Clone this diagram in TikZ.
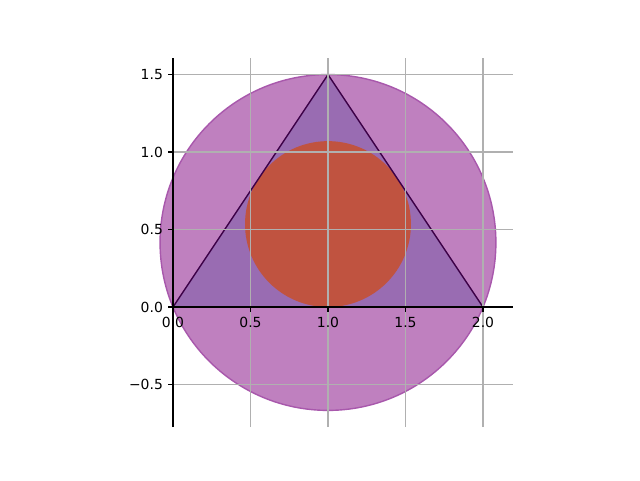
\documentclass[tikz,border=0pt]{standalone}
\usepackage{fontspec}
\setmainfont{DejaVu Sans}
\usepackage{xcolor}
\usetikzlibrary{positioning, calc}

\definecolor{circpurple}{RGB}{191,128,191}
\definecolor{circedge}{RGB}{168,88,172}
\definecolor{tripurple}{RGB}{153,108,178}
\definecolor{inred}{RGB}{192,83,64}
\definecolor{gridgray}{RGB}{176,176,176}
\definecolor{triedge}{RGB}{60,0,70}

\begin{document}
\begin{tikzpicture}[
    x=3.875cm, y=3.875cm,
    gridline/.style = {gridgray, line width=0.8pt},
    spine/.style = {black, line width=0.8pt},
    ticklabel/.style = {font=\fontsize{9.9}{12}\selectfont, inner sep=0pt}
]
\useasboundingbox (-1.116,-1.116) rectangle (3.013,1.981);

% Triangle corners and circle centres
\coordinate (A) at (0,0);
\coordinate (B) at (2,0);
\coordinate (C) at (1,1.5);
\coordinate (circum) at (1,0.41667);
\coordinate (incen) at (1,0.53518);

% Circumcircle, triangle, incircle
\fill[circpurple] (circum) circle (1.08333);
\draw[circedge, line width=1pt] (circum) circle (1.08333);
\fill[tripurple] (A) -- (B) -- (C) -- cycle;
\fill[inred] (incen) circle (0.53518);
\draw[triedge, line width=1pt] (A) -- (B) -- (C) -- cycle;

% Grid
\foreach \gx in {0.5,1,1.5,2}
    \draw[gridline] (\gx,-0.774) -- (\gx,1.606);
\foreach \gy in {-0.5,0,0.5,1,1.5}
    \draw[gridline] (0,\gy) -- (2.194,\gy);

% Axes
\coordinate (ybot) at (0,-0.774);
\coordinate (ytop) at (0,1.606);
\coordinate (xend) at (2.194,0);
\draw[spine] (ybot) -- (ytop);
\draw[spine] (A) -- (xend);

% Ticks and labels
\foreach \t/\lab [count=\i] in {0/0.0, 0.5/0.5, 1/1.0, 1.5/1.5, 2/2.0} {
    \draw[spine] (\t,0) -- ++(0,-3.5pt) coordinate (xt\i);
    \node[ticklabel, below=3.5pt of xt\i] (xl\i) {\lab};
}
\foreach \t/\lab [count=\i] in {-0.5/−0.5, 0/0.0, 0.5/0.5, 1/1.0, 1.5/1.5} {
    \draw[spine] (0,\t) -- ++(-3.5pt,0) coordinate (yt\i);
    \node[ticklabel, left=3.5pt of yt\i] (yl\i) {\lab};
}

\end{tikzpicture}
\end{document}
